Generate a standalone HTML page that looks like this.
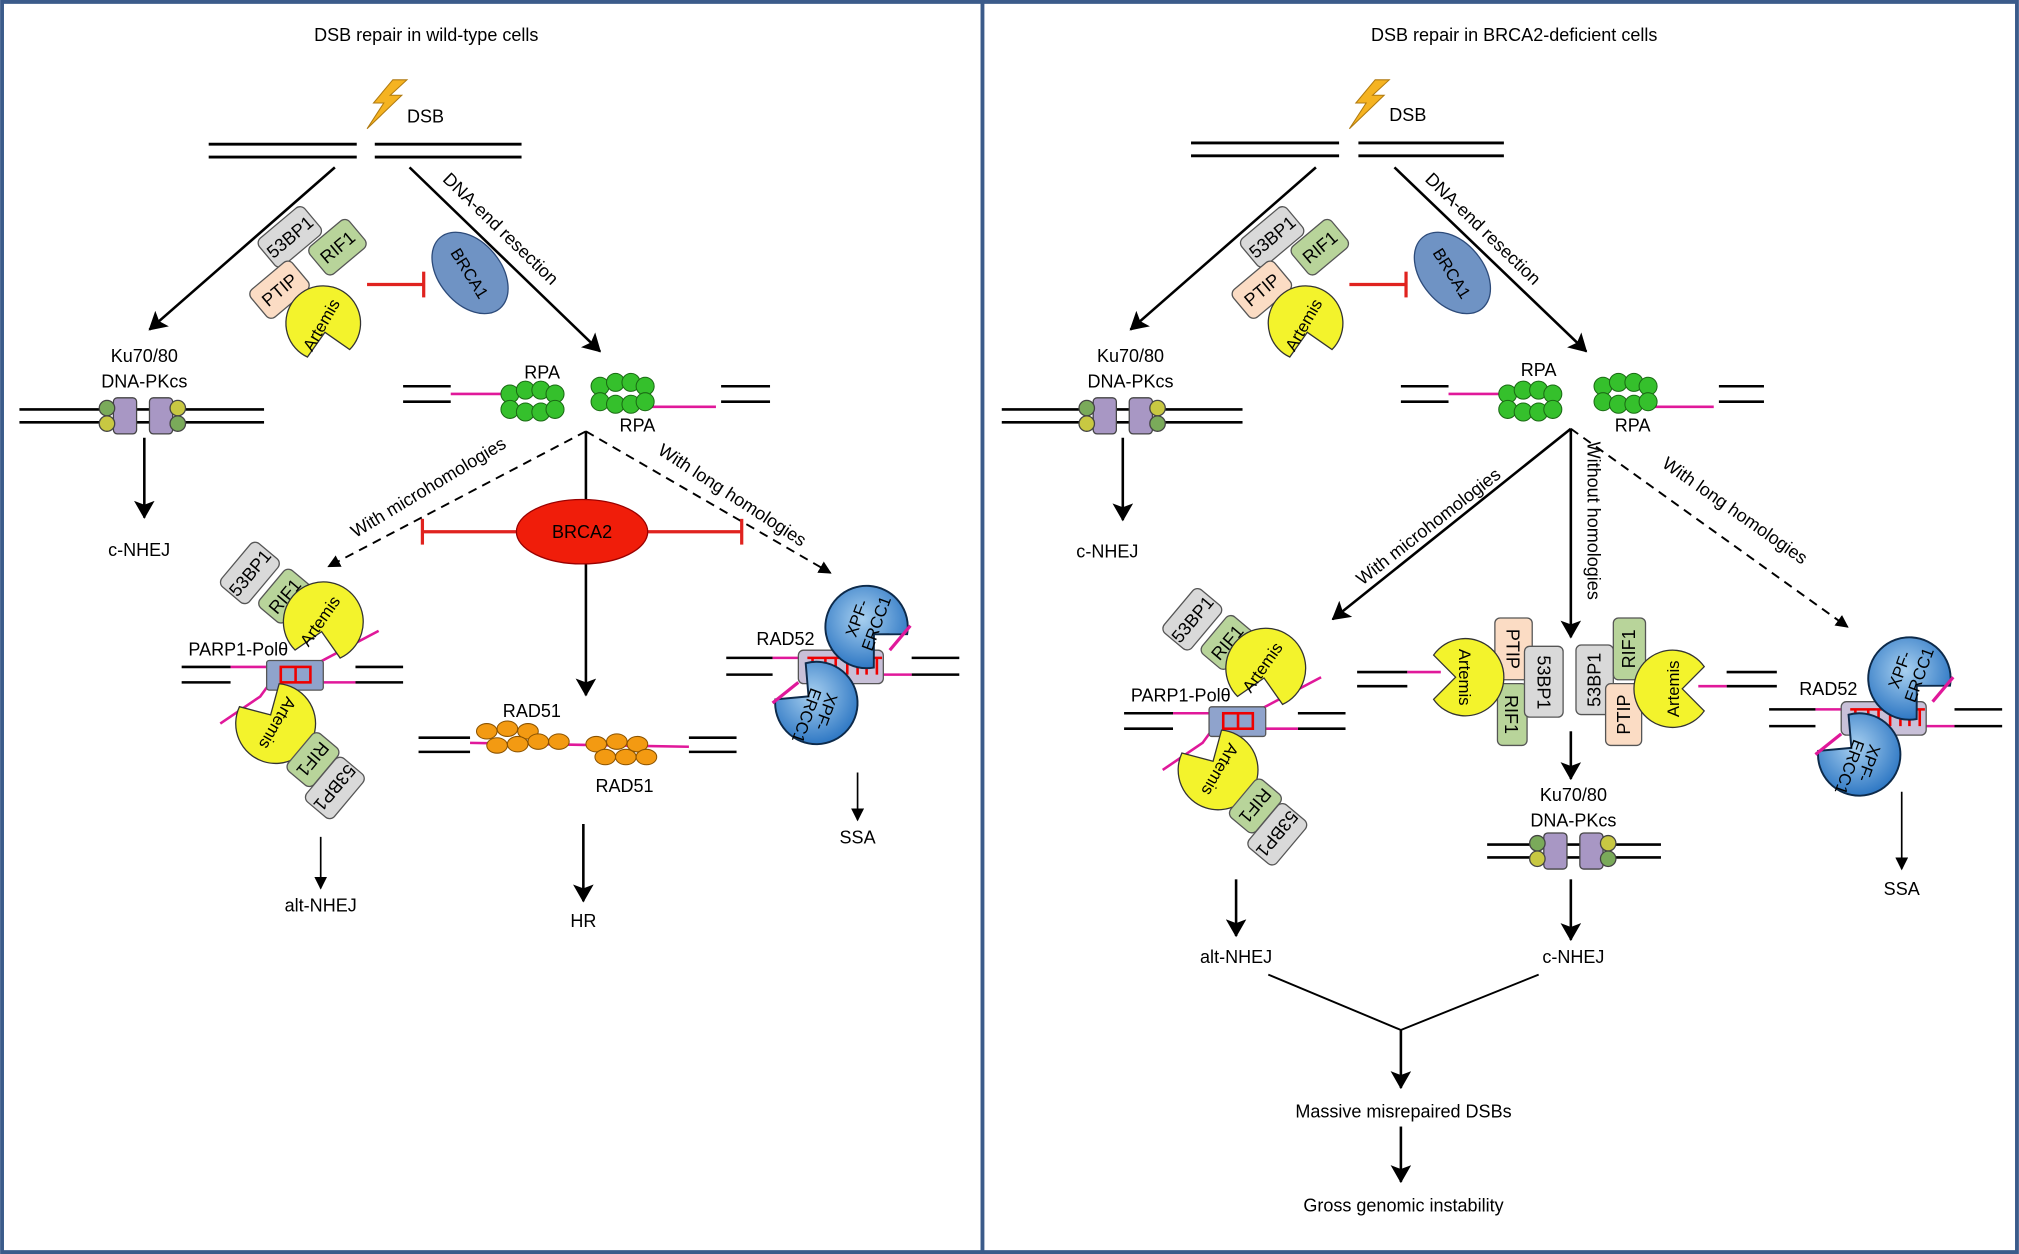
<!DOCTYPE html>
<html><head><meta charset="utf-8"><style>html,body{margin:0;padding:0;background:#fff}svg{display:block}text{font-family:"Liberation Sans",sans-serif;fill:#000}</style></head><body>
<svg width="2019" height="1254" viewBox="0 0 1568 974" xmlns="http://www.w3.org/2000/svg">
<defs>
<marker id="ah" markerWidth="10" markerHeight="10" refX="9" refY="5" orient="auto" markerUnits="userSpaceOnUse"><path d="M0,0 L10,5 L0,10 z" fill="#000"/></marker>
<marker id="ahs" markerWidth="14" markerHeight="16" refX="13" refY="8" orient="auto" markerUnits="userSpaceOnUse"><path d="M0,0 L14,8 L0,16 L3,8 z" fill="#000"/></marker>
<radialGradient id="bg" cx="0.45" cy="0.4" r="0.6"><stop offset="0" stop-color="#a8d0f0"/><stop offset="1" stop-color="#2f78c4"/></radialGradient>
</defs>
<rect x="1.5" y="1.5" width="1565" height="971" fill="none" stroke="#3b5b8a" stroke-width="3"/>
<line x1="763" y1="0" x2="763" y2="974" stroke="#3b5b8a" stroke-width="3"/>
<g font-size="14" text-anchor="middle">
<text x="331" y="32">DSB repair in wild-type cells</text>
<text x="1176" y="32">DSB repair in BRCA2-deficient cells</text>
</g>
<path d="M305,62 L290,80 L298,80 L285,100 L312,74 L303,74 L316,62z" fill="#f5b321" stroke="#b07a10" stroke-width="0.8"/>
<path d="M1068,62 L1053,80 L1061,80 L1048,100 L1075,74 L1066,74 L1079,62z" fill="#f5b321" stroke="#b07a10" stroke-width="0.8"/>
<g font-size="14"><text x="316" y="95">DSB</text><text x="1079" y="94">DSB</text></g>
<g stroke="#000" stroke-width="2.2">
<line x1="162" y1="112" x2="277" y2="112"/><line x1="162" y1="122" x2="277" y2="122"/>
<line x1="291" y1="112" x2="405" y2="112"/><line x1="291" y1="122" x2="405" y2="122"/>
<line x1="925" y1="111" x2="1040" y2="111"/><line x1="925" y1="121" x2="1040" y2="121"/>
<line x1="1055" y1="111" x2="1168" y2="111"/><line x1="1055" y1="121" x2="1168" y2="121"/>
</g>
<g stroke="#000" stroke-width="2" fill="none" marker-end="url(#ahs)">
<line x1="260" y1="130" x2="116" y2="256"/>
<line x1="318" y1="130" x2="466" y2="273"/>
<line x1="1022" y1="130" x2="878" y2="256"/>
<line x1="1083" y1="130" x2="1232" y2="273"/>
<line x1="112" y1="340" x2="112" y2="402"/>
<line x1="872" y1="340" x2="872" y2="404"/>
<line x1="455" y1="335" x2="455" y2="540"/>
<line x1="453" y1="640" x2="453" y2="700"/>
<line x1="1220" y1="333" x2="1035" y2="481"/>
<line x1="1220" y1="333" x2="1220" y2="495"/>
<line x1="1220" y1="568" x2="1220" y2="605"/>
<line x1="1220" y1="683" x2="1220" y2="730"/>
<line x1="960" y1="683" x2="960" y2="727"/>
<line x1="1088" y1="800" x2="1088" y2="845"/>
<line x1="1088" y1="875" x2="1088" y2="918"/>
</g>
<g stroke="#000" stroke-width="1.5" fill="none" stroke-dasharray="7,5" marker-end="url(#ah)">
<line x1="455" y1="335" x2="255" y2="440"/>
<line x1="455" y1="335" x2="645" y2="445"/>
<line x1="1220" y1="333" x2="1435" y2="487"/>
</g>
<g stroke="#000" stroke-width="1.3" fill="none" marker-end="url(#ah)">
<line x1="249" y1="650" x2="249" y2="690"/>
<line x1="666" y1="600" x2="666" y2="637"/>
<line x1="1477" y1="615" x2="1477" y2="675"/>
</g>
<polyline points="985,757 1088,800 1195,757" fill="none" stroke="#000" stroke-width="1.5"/>
<g font-size="14">
<text transform="translate(343,140) rotate(44)">DNA-end resection</text>
<text transform="translate(1106,140) rotate(44)">DNA-end resection</text>
<text transform="translate(276,418) rotate(-31)">With microhomologies</text>
<text transform="translate(510,352) rotate(33)">With long homologies</text>
<text transform="translate(1058,455) rotate(-38)">With microhomologies</text>
<text transform="translate(1233,343) rotate(90)">Without homologies</text>
<text transform="translate(1290,362) rotate(35)">With long homologies</text>
</g>
<!-- BRCA1 -->
<ellipse cx="365" cy="212" rx="24" ry="36" transform="rotate(-40 365 212)" fill="#6f93c4" stroke="#2d4b7a"/>
<text transform="translate(365,212) rotate(58)" font-size="13" text-anchor="middle" dy="5">BRCA1</text>
<ellipse cx="1128" cy="212" rx="24" ry="36" transform="rotate(-40 1128 212)" fill="#6f93c4" stroke="#2d4b7a"/>
<text transform="translate(1128,212) rotate(58)" font-size="13" text-anchor="middle" dy="5">BRCA1</text>
<g stroke="#e0231f" stroke-width="2.5">
<line x1="285" y1="221" x2="329" y2="221"/><line x1="329" y1="211" x2="329" y2="231"/>
<line x1="1048" y1="221" x2="1092" y2="221"/><line x1="1092" y1="211" x2="1092" y2="231"/>
<line x1="402" y1="413" x2="328" y2="413"/><line x1="328" y1="403" x2="328" y2="423"/>
<line x1="502" y1="413" x2="576" y2="413"/><line x1="576" y1="403" x2="576" y2="423"/>
</g>
<ellipse cx="452" cy="413" rx="51" ry="25" fill="#f01d0a" stroke="#900"/>
<text x="452" y="418" font-size="14" text-anchor="middle">BRCA2</text>
<!-- top complexes -->
<g font-size="14" text-anchor="middle" stroke-width="1">
<g transform="translate(0,0)">
<g transform="translate(225,184) rotate(-40)"><rect x="-23" y="-14" width="46" height="28" rx="5" fill="#d9d9d9" stroke="#555"/><text y="5">53BP1</text></g>
<g transform="translate(262,192) rotate(-40)"><rect x="-20" y="-14" width="40" height="28" rx="5" fill="#b8d49a" stroke="#555"/><text y="5">RIF1</text></g>
<g transform="translate(217,225) rotate(-40)"><rect x="-21" y="-14" width="42" height="28" rx="5" fill="#fbdcc4" stroke="#555"/><text y="5">PTIP</text></g>
<path d="M252.3,258.1 L271.5,271.5 A29,29 0 1 0 238.7,277.3 Z" fill="#f3f32c" stroke="#333"/>
<text transform="translate(249,252) rotate(-60)" y="5" font-size="13">Artemis</text>
</g>
<g transform="translate(763,0)">
<g transform="translate(225,184) rotate(-40)"><rect x="-23" y="-14" width="46" height="28" rx="5" fill="#d9d9d9" stroke="#555"/><text y="5">53BP1</text></g>
<g transform="translate(262,192) rotate(-40)"><rect x="-20" y="-14" width="40" height="28" rx="5" fill="#b8d49a" stroke="#555"/><text y="5">RIF1</text></g>
<g transform="translate(217,225) rotate(-40)"><rect x="-21" y="-14" width="42" height="28" rx="5" fill="#fbdcc4" stroke="#555"/><text y="5">PTIP</text></g>
<path d="M252.3,258.1 L271.5,271.5 A29,29 0 1 0 238.7,277.3 Z" fill="#f3f32c" stroke="#333"/>
<text transform="translate(249,252) rotate(-60)" y="5" font-size="13">Artemis</text>
</g>
</g>
<!-- Ku -->
<g font-size="14" text-anchor="middle">
<text x="112" y="281">Ku70/80</text><text x="112" y="301">DNA-PKcs</text>
<text x="878" y="281">Ku70/80</text><text x="878" y="301">DNA-PKcs</text>
<text x="1222" y="622">Ku70/80</text><text x="1222" y="642">DNA-PKcs</text>
<text x="108" y="432">c-NHEJ</text><text x="860" y="433">c-NHEJ</text>
<text x="1222" y="748">c-NHEJ</text>
<text x="249" y="708">alt-NHEJ</text><text x="960" y="748">alt-NHEJ</text>
<text x="453" y="720">HR</text>
<text x="666" y="655">SSA</text><text x="1477" y="695">SSA</text>
<text x="1090" y="868">Massive misrepaired DSBs</text>
<text x="1090" y="941">Gross genomic instability</text>
<text x="421" y="294">RPA</text><text x="495" y="335">RPA</text>
<text x="1195" y="292">RPA</text><text x="1268" y="335">RPA</text>
<text x="413" y="557">RAD51</text><text x="485" y="615">RAD51</text>
<text x="610" y="501">RAD52</text><text x="1420" y="540">RAD52</text>
</g>
<g stroke="#000" stroke-width="2">
<line x1="15" y1="318" x2="205" y2="318"/><line x1="15" y1="328" x2="205" y2="328"/>
<line x1="778" y1="318" x2="965" y2="318"/><line x1="778" y1="328" x2="965" y2="328"/>
<line x1="1155" y1="656" x2="1290" y2="656"/><line x1="1155" y1="666" x2="1290" y2="666"/>
</g>
<g stroke="#444" stroke-width="1">
<rect x="88" y="309" width="18" height="28" rx="3" fill="#a897c4"/><circle cx="83" cy="317" r="6" fill="#7aaa5a"/><circle cx="83" cy="329" r="6" fill="#c8c842"/>
<rect x="116" y="309" width="18" height="28" rx="3" fill="#a897c4"/><circle cx="138" cy="317" r="6" fill="#c8c842"/><circle cx="138" cy="329" r="6" fill="#7aaa5a"/>
<rect x="849" y="309" width="18" height="28" rx="3" fill="#a897c4"/><circle cx="844" cy="317" r="6" fill="#7aaa5a"/><circle cx="844" cy="329" r="6" fill="#c8c842"/>
<rect x="877" y="309" width="18" height="28" rx="3" fill="#a897c4"/><circle cx="899" cy="317" r="6" fill="#c8c842"/><circle cx="899" cy="329" r="6" fill="#7aaa5a"/>
<rect x="1199" y="647" width="18" height="28" rx="3" fill="#a897c4"/><circle cx="1194" cy="655" r="6" fill="#7aaa5a"/><circle cx="1194" cy="667" r="6" fill="#c8c842"/>
<rect x="1227" y="647" width="18" height="28" rx="3" fill="#a897c4"/><circle cx="1249" cy="655" r="6" fill="#c8c842"/><circle cx="1249" cy="667" r="6" fill="#7aaa5a"/>
</g>
<!-- RPA -->
<g stroke="#000" stroke-width="2">
<line x1="313" y1="300" x2="350" y2="300"/><line x1="313" y1="312" x2="350" y2="312"/>
<line x1="560" y1="300" x2="598" y2="300"/><line x1="560" y1="312" x2="598" y2="312"/>
<line x1="1088" y1="300" x2="1125" y2="300"/><line x1="1088" y1="312" x2="1125" y2="312"/>
<line x1="1335" y1="300" x2="1370" y2="300"/><line x1="1335" y1="312" x2="1370" y2="312"/>
</g>
<g stroke="#e0189a" stroke-width="2">
<line x1="350" y1="306" x2="392" y2="306"/><line x1="505" y1="316" x2="556" y2="316"/>
<line x1="1125" y1="306" x2="1167" y2="306"/><line x1="1283" y1="316" x2="1331" y2="316"/>
</g>
<g fill="#35c02c" stroke="#1a6a14" stroke-width="0.8">
<g><circle cx="396" cy="306" r="7"/><circle cx="408" cy="303" r="7"/><circle cx="420" cy="303" r="7"/><circle cx="431" cy="306" r="7"/><circle cx="396" cy="318" r="7"/><circle cx="408" cy="320" r="7"/><circle cx="420" cy="320" r="7"/><circle cx="431" cy="318" r="7"/></g>
<g transform="translate(70,-6)"><circle cx="396" cy="306" r="7"/><circle cx="408" cy="303" r="7"/><circle cx="420" cy="303" r="7"/><circle cx="431" cy="306" r="7"/><circle cx="396" cy="318" r="7"/><circle cx="408" cy="320" r="7"/><circle cx="420" cy="320" r="7"/><circle cx="431" cy="318" r="7"/></g>
<g transform="translate(775,0)"><circle cx="396" cy="306" r="7"/><circle cx="408" cy="303" r="7"/><circle cx="420" cy="303" r="7"/><circle cx="431" cy="306" r="7"/><circle cx="396" cy="318" r="7"/><circle cx="408" cy="320" r="7"/><circle cx="420" cy="320" r="7"/><circle cx="431" cy="318" r="7"/></g>
<g transform="translate(849,-6)"><circle cx="396" cy="306" r="7"/><circle cx="408" cy="303" r="7"/><circle cx="420" cy="303" r="7"/><circle cx="431" cy="306" r="7"/><circle cx="396" cy="318" r="7"/><circle cx="408" cy="320" r="7"/><circle cx="420" cy="320" r="7"/><circle cx="431" cy="318" r="7"/></g>
</g>
<!-- RAD51 -->
<g stroke="#000" stroke-width="2">
<line x1="325" y1="573" x2="365" y2="573"/><line x1="325" y1="584" x2="365" y2="584"/>
<line x1="535" y1="573" x2="572" y2="573"/><line x1="535" y1="584" x2="572" y2="584"/>
</g>
<line x1="365" y1="577" x2="535" y2="580" stroke="#e0189a" stroke-width="2"/>
<g fill="#f39a12" stroke="#8a5200" stroke-width="0.8">
<ellipse cx="378" cy="568" rx="8" ry="6"/><ellipse cx="394" cy="566" rx="8" ry="6"/><ellipse cx="410" cy="568" rx="8" ry="6"/><ellipse cx="386" cy="579" rx="8" ry="6"/><ellipse cx="402" cy="578" rx="8" ry="6"/><ellipse cx="418" cy="576" rx="8" ry="6"/><ellipse cx="434" cy="576" rx="8" ry="6"/>
<ellipse cx="463" cy="578" rx="8" ry="6"/><ellipse cx="479" cy="576" rx="8" ry="6"/><ellipse cx="495" cy="578" rx="8" ry="6"/><ellipse cx="470" cy="588" rx="8" ry="6"/><ellipse cx="486" cy="588" rx="8" ry="6"/><ellipse cx="502" cy="588" rx="8" ry="6"/>
</g>
<!-- alt-NHEJ complexes -->
<g font-size="14" text-anchor="middle">
<g>
<g stroke="#000" stroke-width="2"><line x1="141" y1="518" x2="179" y2="518"/><line x1="141" y1="530" x2="179" y2="530"/><line x1="276" y1="518" x2="313" y2="518"/><line x1="276" y1="530" x2="313" y2="530"/></g>
<g stroke="#e0189a" stroke-width="2"><polyline points="179,518 241,518 294,490" fill="none"/><polyline points="171,562 202,541 210,530 276,530" fill="none"/></g>
<g transform="translate(194,445) rotate(-50)"><rect x="-22" y="-14" width="44" height="28" rx="5" fill="#d9d9d9" stroke="#555"/><text y="5">53BP1</text></g>
<g transform="translate(221,463) rotate(-50)"><rect x="-19" y="-13" width="38" height="26" rx="5" fill="#b8d49a" stroke="#555"/><text y="5">RIF1</text></g>
<path d="M249.7,490.6 L264.1,511.1 A31,31 0 1 0 229.1,504.9 Z" fill="#f3f32c" stroke="#333"/>
<text transform="translate(248,482) rotate(-55)" y="5" font-size="13">Artemis</text>
<rect x="207" y="513" width="44" height="23" rx="2" fill="#8fa3cc" stroke="#555"/>
<g stroke="#e00" stroke-width="2" fill="none"><rect x="218" y="518" width="23" height="12"/><line x1="229.5" y1="518" x2="229.5" y2="530"/></g>
<path d="M210.1,555.3 L185.9,548.9 A31,31 0 1 0 216.7,531.1 Z" fill="#f3f32c" stroke="#333"/>
<text transform="translate(216,562) rotate(120)" y="5" font-size="13">Artemis</text>
<g transform="translate(243,590) rotate(130)"><rect x="-19" y="-13" width="38" height="26" rx="5" fill="#b8d49a" stroke="#555"/><text y="5">RIF1</text></g>
<g transform="translate(260,612) rotate(130)"><rect x="-22" y="-14" width="44" height="28" rx="5" fill="#d9d9d9" stroke="#555"/><text y="5">53BP1</text></g>
<text x="185" y="509">PARP1-Polθ</text>
</g>
<g transform="translate(732,36)">
<g stroke="#000" stroke-width="2"><line x1="141" y1="518" x2="179" y2="518"/><line x1="141" y1="530" x2="179" y2="530"/><line x1="276" y1="518" x2="313" y2="518"/><line x1="276" y1="530" x2="313" y2="530"/></g>
<g stroke="#e0189a" stroke-width="2"><polyline points="179,518 241,518 294,490" fill="none"/><polyline points="171,562 202,541 210,530 276,530" fill="none"/></g>
<g transform="translate(194,445) rotate(-50)"><rect x="-22" y="-14" width="44" height="28" rx="5" fill="#d9d9d9" stroke="#555"/><text y="5">53BP1</text></g>
<g transform="translate(221,463) rotate(-50)"><rect x="-19" y="-13" width="38" height="26" rx="5" fill="#b8d49a" stroke="#555"/><text y="5">RIF1</text></g>
<path d="M249.7,490.6 L264.1,511.1 A31,31 0 1 0 229.1,504.9 Z" fill="#f3f32c" stroke="#333"/>
<text transform="translate(248,482) rotate(-55)" y="5" font-size="13">Artemis</text>
<rect x="207" y="513" width="44" height="23" rx="2" fill="#8fa3cc" stroke="#555"/>
<g stroke="#e00" stroke-width="2" fill="none"><rect x="218" y="518" width="23" height="12"/><line x1="229.5" y1="518" x2="229.5" y2="530"/></g>
<path d="M210.1,555.3 L185.9,548.9 A31,31 0 1 0 216.7,531.1 Z" fill="#f3f32c" stroke="#333"/>
<text transform="translate(216,562) rotate(120)" y="5" font-size="13">Artemis</text>
<g transform="translate(243,590) rotate(130)"><rect x="-19" y="-13" width="38" height="26" rx="5" fill="#b8d49a" stroke="#555"/><text y="5">RIF1</text></g>
<g transform="translate(260,612) rotate(130)"><rect x="-22" y="-14" width="44" height="28" rx="5" fill="#d9d9d9" stroke="#555"/><text y="5">53BP1</text></g>
<text x="185" y="509">PARP1-Polθ</text>
</g>
</g>
<!-- middle complex right -->
<g stroke="#000" stroke-width="2"><line x1="1054" y1="522" x2="1093" y2="522"/><line x1="1054" y1="533" x2="1093" y2="533"/><line x1="1341" y1="522" x2="1380" y2="522"/><line x1="1341" y1="533" x2="1380" y2="533"/></g>
<line x1="1093" y1="522" x2="1119" y2="522" stroke="#e0189a" stroke-width="2"/><line x1="1319" y1="533" x2="1341" y2="533" stroke="#e0189a" stroke-width="2"/>
<g stroke="#555">
<rect x="1161" y="480" width="29" height="48" rx="4" fill="#fbdcc4"/><rect x="1163" y="531" width="23" height="48" rx="4" fill="#b8d49a"/>
<rect x="1184" y="502" width="30" height="55" rx="4" fill="#d9d9d9"/>
<rect x="1224" y="501" width="29" height="54" rx="4" fill="#d9d9d9"/>
<rect x="1253" y="480" width="25" height="48" rx="4" fill="#b8d49a"/><rect x="1247" y="531" width="28" height="48" rx="4" fill="#fbdcc4"/>
</g>
<path d="M1130.5,526 L1113.4,543.2 A30,30 0 1 0 1113.4,508.8 Z" fill="#f3f32c" stroke="#333"/>
<path d="M1306.5,535 L1323.6,517.8 A30,30 0 1 0 1323.6,552.2 Z" fill="#f3f32c" stroke="#333"/>
<g font-size="14" text-anchor="middle">
<text transform="translate(1138,526) rotate(90)" y="5" font-size="13">Artemis</text>
<text transform="translate(1175,504) rotate(90)" y="5">PTIP</text><text transform="translate(1174,555) rotate(90)" y="5">RIF1</text>
<text transform="translate(1199,530) rotate(90)" y="5">53BP1</text>
<text transform="translate(1238,528) rotate(-90)" y="5">53BP1</text>
<text transform="translate(1265,504) rotate(-90)" y="5">RIF1</text><text transform="translate(1261,555) rotate(-90)" y="5">PTIP</text>
<text transform="translate(1299,535) rotate(-90)" y="5" font-size="13">Artemis</text>
</g>
<!-- SSA complexes -->
<g font-size="13" text-anchor="middle">
<g>
<g stroke="#000" stroke-width="2"><line x1="564" y1="511" x2="600" y2="511"/><line x1="564" y1="524" x2="600" y2="524"/><line x1="708" y1="511" x2="745" y2="511"/><line x1="708" y1="524" x2="745" y2="524"/></g>
<line x1="600" y1="511" x2="627" y2="511" stroke="#e0189a" stroke-width="2"/><line x1="685" y1="524" x2="708" y2="524" stroke="#e0189a" stroke-width="2"/>
<rect x="620" y="505" width="66" height="26" rx="4" fill="#c8c0d8" stroke="#555"/>
<g stroke="#e00" stroke-width="2"><line x1="627" y1="511" x2="685" y2="511"/><line x1="631" y1="511" x2="631" y2="524"/><line x1="641" y1="511" x2="641" y2="524"/><line x1="649" y1="511" x2="649" y2="524"/><line x1="658" y1="511" x2="658" y2="524"/><line x1="666" y1="511" x2="666" y2="524"/><line x1="673" y1="511" x2="673" y2="524"/><line x1="681" y1="511" x2="681" y2="524"/></g>
<path d="M678.7,492.7 L704.5,492.6 A32,32 0 1 0 678.6,518.5 Z" fill="url(#bg)" stroke="#0d2a4a" stroke-width="1.5"/>
<path d="M627.9,540.9 L602.1,543.2 A32,32 0 1 0 625.7,515.1 Z" fill="url(#bg)" stroke="#0d2a4a" stroke-width="1.5"/>
<line x1="691" y1="505" x2="707" y2="486" stroke="#e0189a" stroke-width="2.5"/>
<line x1="600" y1="546" x2="620" y2="530" stroke="#e0189a" stroke-width="2.5"/>
<text transform="translate(665,480) rotate(-70)" y="5">XPF-</text><text transform="translate(680,484) rotate(-70)" y="5">ERCC1</text>
<text transform="translate(627,556) rotate(110)" y="5">ERCC1</text><text transform="translate(642,553) rotate(110)" y="5">XPF-</text>
</g>
<g transform="translate(810,40)">
<g stroke="#000" stroke-width="2"><line x1="564" y1="511" x2="600" y2="511"/><line x1="564" y1="524" x2="600" y2="524"/><line x1="708" y1="511" x2="745" y2="511"/><line x1="708" y1="524" x2="745" y2="524"/></g>
<line x1="600" y1="511" x2="627" y2="511" stroke="#e0189a" stroke-width="2"/><line x1="685" y1="524" x2="708" y2="524" stroke="#e0189a" stroke-width="2"/>
<rect x="620" y="505" width="66" height="26" rx="4" fill="#c8c0d8" stroke="#555"/>
<g stroke="#e00" stroke-width="2"><line x1="627" y1="511" x2="685" y2="511"/><line x1="631" y1="511" x2="631" y2="524"/><line x1="641" y1="511" x2="641" y2="524"/><line x1="649" y1="511" x2="649" y2="524"/><line x1="658" y1="511" x2="658" y2="524"/><line x1="666" y1="511" x2="666" y2="524"/><line x1="673" y1="511" x2="673" y2="524"/><line x1="681" y1="511" x2="681" y2="524"/></g>
<path d="M678.7,492.7 L704.5,492.6 A32,32 0 1 0 678.6,518.5 Z" fill="url(#bg)" stroke="#0d2a4a" stroke-width="1.5"/>
<path d="M627.9,540.9 L602.1,543.2 A32,32 0 1 0 625.7,515.1 Z" fill="url(#bg)" stroke="#0d2a4a" stroke-width="1.5"/>
<line x1="691" y1="505" x2="707" y2="486" stroke="#e0189a" stroke-width="2.5"/>
<line x1="600" y1="546" x2="620" y2="530" stroke="#e0189a" stroke-width="2.5"/>
<text transform="translate(665,480) rotate(-70)" y="5">XPF-</text><text transform="translate(680,484) rotate(-70)" y="5">ERCC1</text>
<text transform="translate(627,556) rotate(110)" y="5">ERCC1</text><text transform="translate(642,553) rotate(110)" y="5">XPF-</text>
</g>
</g>
</svg>
</body></html>
